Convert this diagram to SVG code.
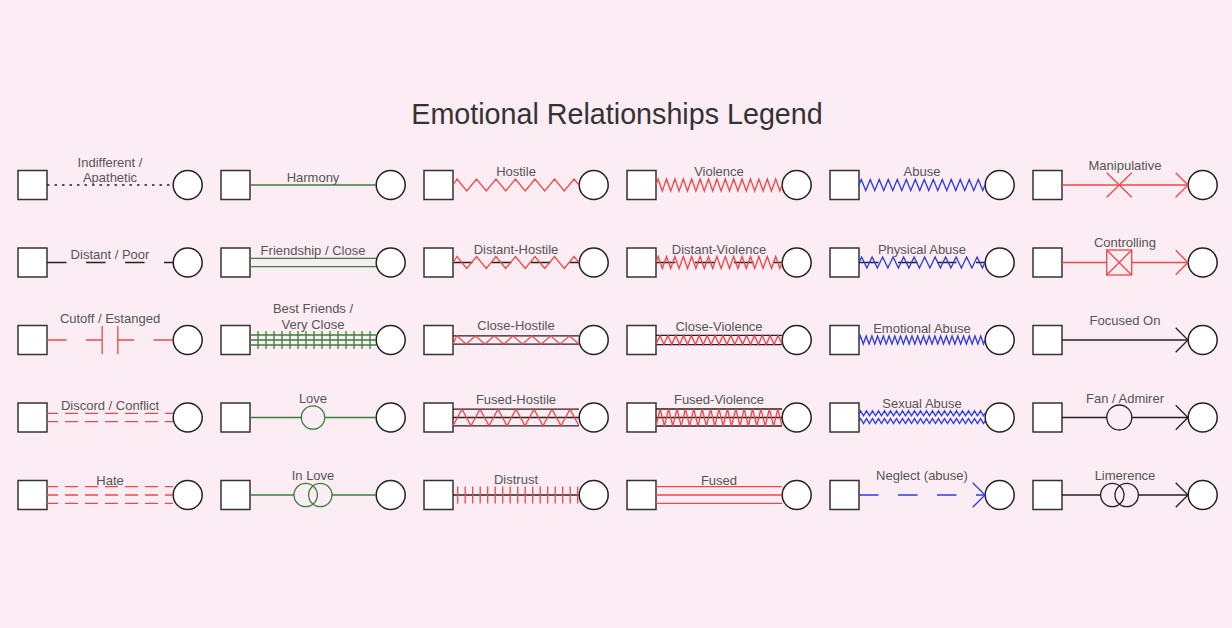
<svg xmlns="http://www.w3.org/2000/svg" xmlns:xlink="http://www.w3.org/1999/xlink" width="1232" height="628" viewBox="0 0 1232 628">
<style>
.sq{fill:#fff;stroke:#333;stroke-width:1.5}
.ci{fill:#fff;stroke:#222;stroke-width:1.5}
.lb{font-family:"Liberation Sans",Arial,sans-serif;font-size:13px;fill:#555;text-anchor:middle}
.tt{font-family:"Liberation Sans",Arial,sans-serif;font-size:28.7px;fill:#333;text-anchor:middle}
.k{stroke:#222;stroke-width:1.3;fill:none}
.r{stroke:#f04848;stroke-width:1.3;fill:none}
.g{stroke:#3b7f3b;stroke-width:1.3;fill:none}
.b{stroke:#2a3ce6;stroke-width:1.3;fill:none}
.bgf{fill:#fcecf3}
.dist{stroke-dasharray:19.5 19.5}
.dsh{stroke-dasharray:13 7;stroke-dashoffset:2}
</style>
<defs>
<path id="zz-h" d="M0,0 L4,-6 L13.75,6 L23.5,-6 L33.25,6 L43,-6 L52.75,6 L62.5,-6 L72.25,6 L82,-6 L91.75,6 L101.5,-6 L111.25,6 L121,-6 L126,0"/>
<path id="zz-v" d="M0,0 l2.1,-6 l4.2,12 l4.2,-12 l4.2,12 l4.2,-12 l4.2,12 l4.2,-12 l4.2,12 l4.2,-12 l4.2,12 l4.2,-12 l4.2,12 l4.2,-12 l4.2,12 l4.2,-12 l4.2,12 l4.2,-12 l4.2,12 l4.2,-12 l4.2,12 l4.2,-12 l4.2,12 l4.2,-12 l4.2,12 l4.2,-12 l4.2,12 l4.2,-12 l4.2,12 l4.2,-12 l4.2,12 l2.1,-6"/>
<path id="zz-a" d="M0,0 l2.25,-5.5 l4.5,11 l4.5,-11 l4.5,11 l4.5,-11 l4.5,11 l4.5,-11 l4.5,11 l4.5,-11 l4.5,11 l4.5,-11 l4.5,11 l4.5,-11 l4.5,11 l4.5,-11 l4.5,11 l4.5,-11 l4.5,11 l4.5,-11 l4.5,11 l4.5,-11 l4.5,11 l4.5,-11 l4.5,11 l4.5,-11 l4.5,11 l4.5,-11 l4.5,11 l2.25,-5.5"/>
<path id="zz-s" d="M0,0 l1.5,-2.5 l3,5 l3,-5 l3,5 l3,-5 l3,5 l3,-5 l3,5 l3,-5 l3,5 l3,-5 l3,5 l3,-5 l3,5 l3,-5 l3,5 l3,-5 l3,5 l3,-5 l3,5 l3,-5 l3,5 l3,-5 l3,5 l3,-5 l3,5 l3,-5 l3,5 l3,-5 l3,5 l3,-5 l3,5 l3,-5 l3,5 l3,-5 l3,5 l3,-5 l3,5 l3,-5 l3,5 l3,-5 l3,5 l1.5,-2.5"/>
<path id="arr" d="M113.7,-12.3 L126,0 L113.7,12.3"/>

<g id="k-dotted"><line class="k" x1="0" y1="0" x2="126" y2="0" stroke-dasharray="2.5 5"/></g>
<g id="k-distant"><line class="k dist" x1="0" y1="0" x2="126" y2="0"/></g>
<g id="k-cutoff" class="r"><path d="M0,0H19.5M39,0H55.2M70.8,0H87M106.5,0H126M55.2,-14V14M70.8,-14V14"/></g>
<g id="k-discord" class="r dsh"><line x1="0" y1="-4.2" x2="126" y2="-4.2"/><line x1="0" y1="4.2" x2="126" y2="4.2"/></g>
<g id="k-hate" class="r dsh"><line x1="0" y1="-8.3" x2="126" y2="-8.3"/><line x1="0" y1="0" x2="126" y2="0"/><line x1="0" y1="8.3" x2="126" y2="8.3"/></g>

<g id="k-harmony"><line class="g" x1="0" y1="0" x2="126" y2="0"/></g>
<g id="k-friend" class="g"><line x1="0" y1="-4.2" x2="126" y2="-4.2"/><line x1="0" y1="4.2" x2="126" y2="4.2"/></g>
<g id="k-best" class="g"><path d="M0,-5H126M0,0H126M0,5H126M8,-9v18M16,-9v18M24,-9v18M32,-9v18M40,-9v18M48,-9v18M56,-9v18M64,-9v18M72,-9v18M80,-9v18M88,-9v18M96,-9v18M104,-9v18M112,-9v18M120,-9v18"/></g>
<g id="k-love" class="g"><path d="M0,0H51.3M74.7,0H126"/><circle cx="63" cy="0" r="11.7"/></g>
<g id="k-inlove" class="g"><path d="M0,0H44M82,0H126"/><circle cx="55.7" cy="0" r="11.7"/><circle cx="70.3" cy="0" r="11.7"/></g>

<g id="k-hostile"><use href="#zz-h" class="r"/></g>
<g id="k-dhostile"><line class="k dist" x1="0" y1="0" x2="126" y2="0"/><use href="#zz-h" class="r"/></g>
<g id="k-chostile"><path class="k" d="M0,-4.2H126M0,4.2H126"/><path class="r" d="M0,4.2 L3.7,-4.2 L13.1,4.2 L22.5,-4.2 L31.9,4.2 L41.3,-4.2 L50.7,4.2 L60.1,-4.2 L69.5,4.2 L78.9,-4.2 L88.3,4.2 L97.7,-4.2 L107.1,4.2 L116.5,-4.2 L125.9,4.2"/></g>
<g id="k-fhostile"><path class="k" d="M0,-8.3H126M0,0H126M0,8.3H126"/><path class="r" d="M0,8.3 L9,-8.3 L18,8.3 L27,-8.3 L36,8.3 L45,-8.3 L54,8.3 L63,-8.3 L72,8.3 L81,-8.3 L90,8.3 L99,-8.3 L108,8.3 L117,-8.3 L126,8.3"/></g>
<g id="k-distrust"><line class="k" x1="0" y1="0" x2="126" y2="0"/><path class="r" d="M4.7,-8.5v17M12.2,-8.5v17M19.7,-8.5v17M27.2,-8.5v17M34.7,-8.5v17M42.2,-8.5v17M49.7,-8.5v17M57.2,-8.5v17M64.7,-8.5v17M72.2,-8.5v17M79.7,-8.5v17M87.2,-8.5v17M94.7,-8.5v17M102.2,-8.5v17M109.7,-8.5v17M117.2,-8.5v17M124.7,-8.5v17"/></g>

<g id="k-violence"><use href="#zz-v" class="r"/></g>
<g id="k-dviolence"><line class="k dist" x1="0" y1="0" x2="126" y2="0"/><use href="#zz-v" class="r"/></g>
<g id="k-cviolence"><path class="k" d="M0,-4.6H126M0,4.6H126"/><path class="r" d="M0,4.6 l3.9375,-9.2 l3.9375,9.2 l3.9375,-9.2 l3.9375,9.2 l3.9375,-9.2 l3.9375,9.2 l3.9375,-9.2 l3.9375,9.2 l3.9375,-9.2 l3.9375,9.2 l3.9375,-9.2 l3.9375,9.2 l3.9375,-9.2 l3.9375,9.2 l3.9375,-9.2 l3.9375,9.2 l3.9375,-9.2 l3.9375,9.2 l3.9375,-9.2 l3.9375,9.2 l3.9375,-9.2 l3.9375,9.2 l3.9375,-9.2 l3.9375,9.2 l3.9375,-9.2 l3.9375,9.2 l3.9375,-9.2 l3.9375,9.2 l3.9375,-9.2 l3.9375,9.2 l3.9375,-9.2 l3.9375,9.2"/></g>
<g id="k-fviolence"><path class="k" d="M0,-8.5H126M0,0H126M0,8.5H126"/><path class="r" d="M0,8.5 l4.2,-17 l4.2,17 l4.2,-17 l4.2,17 l4.2,-17 l4.2,17 l4.2,-17 l4.2,17 l4.2,-17 l4.2,17 l4.2,-17 l4.2,17 l4.2,-17 l4.2,17 l4.2,-17 l4.2,17 l4.2,-17 l4.2,17 l4.2,-17 l4.2,17 l4.2,-17 l4.2,17 l4.2,-17 l4.2,17 l4.2,-17 l4.2,17 l4.2,-17 l4.2,17 l4.2,-17 l4.2,17"/></g>
<g id="k-fused" class="r"><path d="M0,-8.3H126M0,0H126M0,8.3H126"/></g>

<g id="k-abuse"><use href="#zz-a" class="b"/></g>
<g id="k-pabuse"><line class="k dist" x1="0" y1="0" x2="126" y2="0"/><path class="b" d="M0,0 l2.625,-5.5 l5.25,11 l5.25,-11 l5.25,11 l5.25,-11 l5.25,11 l5.25,-11 l5.25,11 l5.25,-11 l5.25,11 l5.25,-11 l5.25,11 l5.25,-11 l5.25,11 l5.25,-11 l5.25,11 l5.25,-11 l5.25,11 l5.25,-11 l5.25,11 l5.25,-11 l5.25,11 l5.25,-11 l5.25,11 l2.625,-5.5"/></g>
<g id="k-eabuse"><path class="b" d="M0,0 l1.432,-4 l2.864,8 l2.864,-8 l2.864,8 l2.864,-8 l2.864,8 l2.864,-8 l2.864,8 l2.864,-8 l2.864,8 l2.864,-8 l2.864,8 l2.864,-8 l2.864,8 l2.864,-8 l2.864,8 l2.864,-8 l2.864,8 l2.864,-8 l2.864,8 l2.864,-8 l2.864,8 l2.864,-8 l2.864,8 l2.864,-8 l2.864,8 l2.864,-8 l2.864,8 l2.864,-8 l2.864,8 l2.864,-8 l2.864,8 l2.864,-8 l2.864,8 l2.864,-8 l2.864,8 l2.864,-8 l2.864,8 l2.864,-8 l2.864,8 l2.864,-8 l2.864,8 l2.864,-8 l2.864,8 l1.432,-4"/></g>
<g id="k-sabuse"><use href="#zz-s" class="b" y="-4.2"/><use href="#zz-s" class="b" y="3.6"/></g>
<g id="k-neglect" class="b"><line class="dist" x1="0" y1="0" x2="126" y2="0"/><use href="#arr"/></g>

<g id="k-manip" class="r"><line x1="0" y1="0" x2="126" y2="0"/><path d="M44.7,-12.3L69.7,12.3M44.7,12.3L69.7,-12.3"/><use href="#arr"/></g>
<g id="k-control" class="r"><line x1="0" y1="0" x2="126" y2="0"/><rect class="bgf" x="44.7" y="-12.5" width="25" height="25" stroke="#f04848"/><path d="M44.7,-12.5L69.7,12.5M44.7,12.5L69.7,-12.5"/><use href="#arr"/></g>
<g id="k-focus" class="k"><line x1="0" y1="0" x2="126" y2="0"/><use href="#arr"/></g>
<g id="k-fan" class="k"><path d="M0,0H44.8M69.8,0H126"/><circle cx="57.3" cy="0" r="12.5"/><use href="#arr"/></g>
<g id="k-limer" class="k"><path d="M0,0H38.6M76.4,0H126"/><circle cx="50.3" cy="0" r="11.7"/><circle cx="64.7" cy="0" r="11.7"/><use href="#arr"/></g>
</defs>

<rect x="0" y="0" width="1232" height="628" fill="#fcecf3"/>
<text class="tt" x="617" y="124">Emotional Relationships Legend</text>

<g id="nodes">
<g id="n-indifferent"><rect class="sq" x="18" y="170.5" width="29" height="29"/><circle class="ci" cx="187.7" cy="185" r="14.5"/></g>
<g id="n-distant"><rect class="sq" x="18" y="248" width="29" height="29"/><circle class="ci" cx="187.7" cy="262.5" r="14.5"/></g>
<g id="n-cutoff"><rect class="sq" x="18" y="325.5" width="29" height="29"/><circle class="ci" cx="187.7" cy="340" r="14.5"/></g>
<g id="n-discord"><rect class="sq" x="18" y="403" width="29" height="29"/><circle class="ci" cx="187.7" cy="417.5" r="14.5"/></g>
<g id="n-hate"><rect class="sq" x="18" y="480.5" width="29" height="29"/><circle class="ci" cx="187.7" cy="495" r="14.5"/></g>

<g id="n-harmony"><rect class="sq" x="221" y="170.5" width="29" height="29"/><circle class="ci" cx="390.7" cy="185" r="14.5"/></g>
<g id="n-friendship"><rect class="sq" x="221" y="248" width="29" height="29"/><circle class="ci" cx="390.7" cy="262.5" r="14.5"/></g>
<g id="n-best-friends"><rect class="sq" x="221" y="325.5" width="29" height="29"/><circle class="ci" cx="390.7" cy="340" r="14.5"/></g>
<g id="n-love"><rect class="sq" x="221" y="403" width="29" height="29"/><circle class="ci" cx="390.7" cy="417.5" r="14.5"/></g>
<g id="n-in-love"><rect class="sq" x="221" y="480.5" width="29" height="29"/><circle class="ci" cx="390.7" cy="495" r="14.5"/></g>

<g id="n-hostile"><rect class="sq" x="424" y="170.5" width="29" height="29"/><circle class="ci" cx="593.7" cy="185" r="14.5"/></g>
<g id="n-distant-hostile"><rect class="sq" x="424" y="248" width="29" height="29"/><circle class="ci" cx="593.7" cy="262.5" r="14.5"/></g>
<g id="n-close-hostile"><rect class="sq" x="424" y="325.5" width="29" height="29"/><circle class="ci" cx="593.7" cy="340" r="14.5"/></g>
<g id="n-fused-hostile"><rect class="sq" x="424" y="403" width="29" height="29"/><circle class="ci" cx="593.7" cy="417.5" r="14.5"/></g>
<g id="n-distrust"><rect class="sq" x="424" y="480.5" width="29" height="29"/><circle class="ci" cx="593.7" cy="495" r="14.5"/></g>

<g id="n-violence"><rect class="sq" x="627" y="170.5" width="29" height="29"/><circle class="ci" cx="796.7" cy="185" r="14.5"/></g>
<g id="n-distant-violence"><rect class="sq" x="627" y="248" width="29" height="29"/><circle class="ci" cx="796.7" cy="262.5" r="14.5"/></g>
<g id="n-close-violence"><rect class="sq" x="627" y="325.5" width="29" height="29"/><circle class="ci" cx="796.7" cy="340" r="14.5"/></g>
<g id="n-fused-violence"><rect class="sq" x="627" y="403" width="29" height="29"/><circle class="ci" cx="796.7" cy="417.5" r="14.5"/></g>
<g id="n-fused"><rect class="sq" x="627" y="480.5" width="29" height="29"/><circle class="ci" cx="796.7" cy="495" r="14.5"/></g>

<g id="n-abuse"><rect class="sq" x="830" y="170.5" width="29" height="29"/><circle class="ci" cx="999.7" cy="185" r="14.5"/></g>
<g id="n-physical-abuse"><rect class="sq" x="830" y="248" width="29" height="29"/><circle class="ci" cx="999.7" cy="262.5" r="14.5"/></g>
<g id="n-emotional-abuse"><rect class="sq" x="830" y="325.5" width="29" height="29"/><circle class="ci" cx="999.7" cy="340" r="14.5"/></g>
<g id="n-sexual-abuse"><rect class="sq" x="830" y="403" width="29" height="29"/><circle class="ci" cx="999.7" cy="417.5" r="14.5"/></g>
<g id="n-neglect"><rect class="sq" x="830" y="480.5" width="29" height="29"/><circle class="ci" cx="999.7" cy="495" r="14.5"/></g>

<g id="n-manipulative"><rect class="sq" x="1033" y="170.5" width="29" height="29"/><circle class="ci" cx="1202.7" cy="185" r="14.5"/></g>
<g id="n-controlling"><rect class="sq" x="1033" y="248" width="29" height="29"/><circle class="ci" cx="1202.7" cy="262.5" r="14.5"/></g>
<g id="n-focused-on"><rect class="sq" x="1033" y="325.5" width="29" height="29"/><circle class="ci" cx="1202.7" cy="340" r="14.5"/></g>
<g id="n-fan"><rect class="sq" x="1033" y="403" width="29" height="29"/><circle class="ci" cx="1202.7" cy="417.5" r="14.5"/></g>
<g id="n-limerence"><rect class="sq" x="1033" y="480.5" width="29" height="29"/><circle class="ci" cx="1202.7" cy="495" r="14.5"/></g>
</g>

<g id="connectors">
<g id="c-indifferent"><use href="#k-dotted" x="47" y="185"/><text class="lb" x="110" y="166.6">Indifferent /</text><text class="lb" x="110" y="182">Apathetic</text></g>
<g id="c-distant"><use href="#k-distant" x="47" y="262.5"/><text class="lb" x="110" y="259.3">Distant / Poor</text></g>
<g id="c-cutoff"><use href="#k-cutoff" x="47" y="340"/><text class="lb" x="110" y="322.6">Cutoff / Estanged</text></g>
<g id="c-discord"><use href="#k-discord" x="47" y="417.5"/><text class="lb" x="110" y="410">Discord / Conflict</text></g>
<g id="c-hate"><use href="#k-hate" x="47" y="495"/><text class="lb" x="110" y="485">Hate</text></g>

<g id="c-harmony"><use href="#k-harmony" x="250" y="185"/><text class="lb" x="313" y="182">Harmony</text></g>
<g id="c-friendship"><use href="#k-friend" x="250" y="262.5"/><text class="lb" x="313" y="255.3">Friendship / Close</text></g>
<g id="c-best-friends"><use href="#k-best" x="250" y="340"/><text class="lb" x="313" y="312.6">Best Friends /</text><text class="lb" x="313" y="329.3">Very Close</text></g>
<g id="c-love"><use href="#k-love" x="250" y="417.5"/><text class="lb" x="313" y="402.6">Love</text></g>
<g id="c-in-love"><use href="#k-inlove" x="250" y="495"/><text class="lb" x="313" y="480">In Love</text></g>

<g id="c-hostile"><use href="#k-hostile" x="453" y="185"/><text class="lb" x="516" y="176">Hostile</text></g>
<g id="c-distant-hostile"><use href="#k-dhostile" x="453" y="262.5"/><text class="lb" x="516" y="254.3">Distant-Hostile</text></g>
<g id="c-close-hostile"><use href="#k-chostile" x="453" y="340"/><text class="lb" x="516" y="330.3">Close-Hostile</text></g>
<g id="c-fused-hostile"><use href="#k-fhostile" x="453" y="417.5"/><text class="lb" x="516" y="404.3">Fused-Hostile</text></g>
<g id="c-distrust"><use href="#k-distrust" x="453" y="495"/><text class="lb" x="516" y="484.3">Distrust</text></g>

<g id="c-violence"><use href="#k-violence" x="656" y="185"/><text class="lb" x="719" y="176">Violence</text></g>
<g id="c-distant-violence"><use href="#k-dviolence" x="656" y="262.5"/><text class="lb" x="719" y="254.3">Distant-Violence</text></g>
<g id="c-close-violence"><use href="#k-cviolence" x="656" y="340"/><text class="lb" x="719" y="331">Close-Violence</text></g>
<g id="c-fused-violence"><use href="#k-fviolence" x="656" y="417.5"/><text class="lb" x="719" y="404.3">Fused-Violence</text></g>
<g id="c-fused"><use href="#k-fused" x="656" y="495"/><text class="lb" x="719" y="485">Fused</text></g>

<g id="c-abuse"><use href="#k-abuse" x="859" y="185"/><text class="lb" x="922" y="176">Abuse</text></g>
<g id="c-physical-abuse"><use href="#k-pabuse" x="859" y="262.5"/><text class="lb" x="922" y="254.3">Physical Abuse</text></g>
<g id="c-emotional-abuse"><use href="#k-eabuse" x="859" y="340"/><text class="lb" x="922" y="333.3">Emotional Abuse</text></g>
<g id="c-sexual-abuse"><use href="#k-sabuse" x="859" y="417.5"/><text class="lb" x="922" y="407.6">Sexual Abuse</text></g>
<g id="c-neglect"><use href="#k-neglect" x="859" y="495"/><text class="lb" x="922" y="480">Neglect (abuse)</text></g>

<g id="c-manipulative"><use href="#k-manip" x="1062" y="185"/><text class="lb" x="1125" y="170">Manipulative</text></g>
<g id="c-controlling"><use href="#k-control" x="1062" y="262.5"/><text class="lb" x="1125" y="246.6">Controlling</text></g>
<g id="c-focused-on"><use href="#k-focus" x="1062" y="340"/><text class="lb" x="1125" y="325">Focused On</text></g>
<g id="c-fan"><use href="#k-fan" x="1062" y="417.5"/><text class="lb" x="1125" y="402.6">Fan / Admirer</text></g>
<g id="c-limerence"><use href="#k-limer" x="1062" y="495"/><text class="lb" x="1125" y="480">Limerence</text></g>
</g>
</svg>
